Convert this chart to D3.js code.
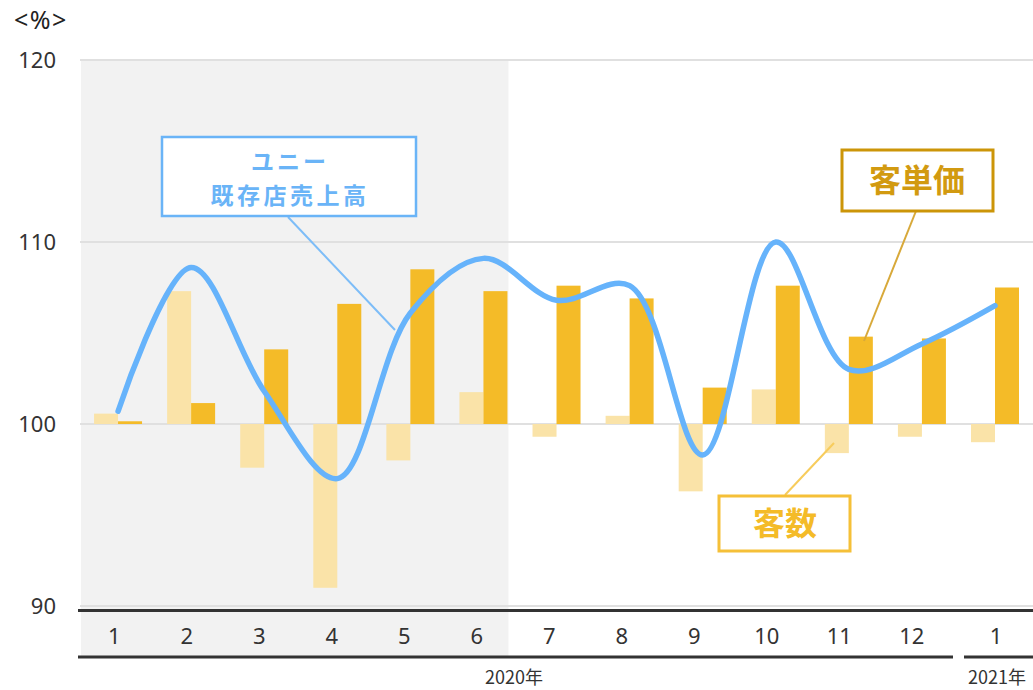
<!DOCTYPE html>
<html><head><meta charset="utf-8">
<script src="https://cdn.jsdelivr.net/npm/d3@7"></script>
<style>body{margin:0;background:#fff;}svg{display:block;}</style>
</head><body>
<svg id="c" width="1033" height="690"></svg>
<script>
const months = ["1","2","3","4","5","6","7","8","9","10","11","12","1"];
const customers = [100.57,107.3,97.6,91.0,98.0,101.75,99.3,100.45,96.3,101.9,98.4,99.3,99.0];
const unitPrice = [100.15,101.15,104.1,106.6,108.5,107.3,107.6,106.9,102.0,107.6,104.8,104.7,107.5];
const sales = [100.7,108.6,101.8,97.0,106.1,109.1,106.8,107.6,98.3,110.0,103.0,104.4,106.5];
const yTicks = [90,100,110,120];
const years = ["2020年","2021年"];

const svg = d3.select("#c");
const num = "'Noto Sans','Open Sans',sans-serif";
const jp = "'Noto Sans CJK JP','Noto Sans',sans-serif";
const idx = d3.range(months.length);
const x = d3.scaleBand().domain(idx).range([81.5, 81.5 + 13*73.08]);
const cx = i => x(i) + x.bandwidth()/2;
const y = d3.scaleLinear().domain([90,120]).range([606,60]);
const bw = 24;

// shaded region (first half)
svg.append("rect").attr("x",81).attr("y",y(120)).attr("width",cx(5)+bw+1-81).attr("height",657-y(120)).attr("fill","#f2f2f2");

// grid
svg.selectAll(".grid").data(yTicks).join("line")
  .attr("x1",80).attr("x2",1033).attr("y1",d=>y(d)).attr("y2",d=>y(d))
  .attr("stroke","#e0e0e0").attr("stroke-width",2);
svg.selectAll(".ytl").data(yTicks).join("text")
  .attr("x",56).attr("y",d=>y(d)).attr("dy","0.35em").attr("text-anchor","end")
  .attr("font-family",num).attr("font-size",22).attr("fill","#333").text(d=>d);
svg.append("text").attr("x",14).attr("y",20).attr("dy","0.35em").attr("font-family",num).attr("font-size",25).attr("letter-spacing",1.5).attr("fill","#222").text("<%>");

// bars
svg.selectAll(".cb").data(idx).join("rect")
  .attr("x",i=>cx(i)-bw).attr("width",bw)
  .attr("y",i=>y(Math.max(100,customers[i]))).attr("height",i=>Math.abs(y(customers[i])-y(100)))
  .attr("fill","#fae3a8");
svg.selectAll(".pb").data(idx).join("rect")
  .attr("x",i=>cx(i)).attr("width",bw)
  .attr("y",i=>y(Math.max(100,unitPrice[i]))).attr("height",i=>Math.abs(y(unitPrice[i])-y(100)))
  .attr("fill","#f4bb28");

// line
const line = d3.line().x((d,i)=>cx(i)).y(d=>y(d)).curve(d3.curveCatmullRom.alpha(0.5));
svg.append("path").attr("d",line(sales)).attr("fill","none").attr("stroke","#66b3fb").attr("stroke-width",5.5).attr("stroke-linecap","round");

// axes lines
svg.append("line").attr("x1",78).attr("x2",1033).attr("y1",610.5).attr("y2",610.5).attr("stroke","#333").attr("stroke-width",3);
svg.append("line").attr("x1",78).attr("x2",953).attr("y1",657).attr("y2",657).attr("stroke","#333").attr("stroke-width",3);
svg.append("line").attr("x1",964).attr("x2",1033).attr("y1",657).attr("y2",657).attr("stroke","#333").attr("stroke-width",3);

// x labels
const xl = d3.scaleBand().domain(d3.range(12)).range([78,948]);
svg.selectAll(".xtl").data(idx).join("text")
  .attr("x",i=> i<12 ? xl(i)+xl.bandwidth()/2 : 996)
  .attr("y",636).attr("dy","0.35em").attr("text-anchor","middle")
  .attr("font-family",num).attr("font-size",22).attr("fill","#333").text(i=>months[i]);
svg.append("text").attr("x",514).attr("y",678).attr("dy","0.35em").attr("text-anchor","middle").attr("font-family",jp).attr("font-size",18).attr("fill","#333").text(years[0]);
svg.append("text").attr("x",997).attr("y",678).attr("dy","0.35em").attr("text-anchor","middle").attr("font-family",jp).attr("font-size",18).attr("fill","#333").text(years[1]);

// annotations
function box(x0,y0,w,h,stroke,sw){
  svg.append("rect").attr("x",x0).attr("y",y0).attr("width",w).attr("height",h).attr("fill","#fff").attr("stroke",stroke).attr("stroke-width",sw);
}
function leader(x1,y1,x2,y2,c){
  svg.append("line").attr("x1",x1).attr("y1",y1).attr("x2",x2).attr("y2",y2).attr("stroke",c).attr("stroke-width",2);
}
leader(288,217,395,330,"#7dbdf8");
box(162,137,254,79,"#6ab4f7",2.5);
svg.append("text").attr("x",290).attr("y",162).attr("dy","0.35em").attr("text-anchor","middle").attr("font-family",jp).attr("font-weight","bold").attr("font-size",23).attr("letter-spacing",3).attr("fill","#6ab4f7").text("ユニー");
svg.append("text").attr("x",290).attr("y",196).attr("dy","0.35em").attr("text-anchor","middle").attr("font-family",jp).attr("font-weight","bold").attr("font-size",23).attr("letter-spacing",3.5).attr("fill","#6ab4f7").text("既存店売上高");

leader(916,211,864,341,"#d8a93a");
box(842,150,151,61,"#cc9508",3);
svg.append("text").attr("x",917).attr("y",181).attr("dy","0.35em").attr("text-anchor","middle").attr("font-family",jp).attr("font-weight","bold").attr("font-size",32).attr("fill","#d29a10").text("客単価");

leader(785,495,834,443,"#f7cc5c");
box(719,496,131,55,"#f5c038",3);
svg.append("text").attr("x",785).attr("y",524).attr("dy","0.35em").attr("text-anchor","middle").attr("font-family",jp).attr("font-weight","bold").attr("font-size",32).attr("fill","#f4bb28").text("客数");
</script>
</body></html>
